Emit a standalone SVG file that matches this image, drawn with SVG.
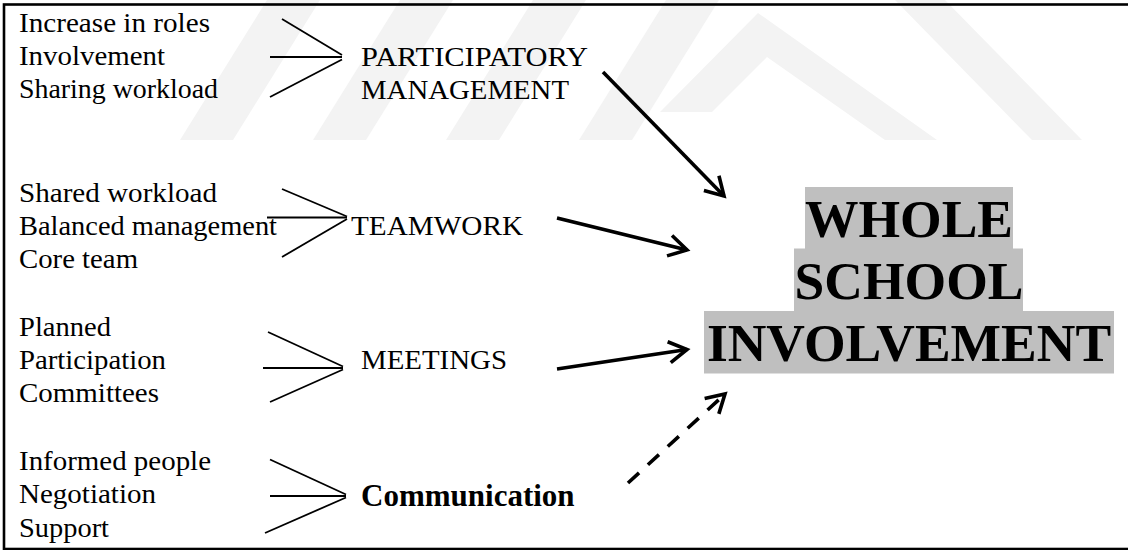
<svg xmlns="http://www.w3.org/2000/svg" width="1128" height="550" viewBox="0 0 1128 550">
<style>
.t{font-family:"Liberation Serif","Times New Roman",serif;font-size:28px;fill:#000}
.lb{font-family:"Liberation Serif","Times New Roman",serif;font-size:28px;fill:#000}
.bd{font-family:"Liberation Serif","Times New Roman",serif;font-size:31px;font-weight:bold;fill:#000}
.big{font-family:"Liberation Serif","Times New Roman",serif;font-size:53.5px;font-weight:bold;fill:#000;text-anchor:middle}
.ch{stroke:#000;stroke-width:1.8;fill:none}
.ar{stroke:#000;stroke-width:3.6;fill:none;marker-end:url(#head)}
.wm{fill:#f3f3f3}
</style>
<defs>
<marker id="head" markerUnits="userSpaceOnUse" orient="auto" refX="0" refY="0" markerWidth="40" markerHeight="40" overflow="visible">
<path d="M-18,-10.5 L0,0 L-18,10.5" fill="none" stroke="#000" stroke-width="3.6" stroke-dasharray="none"/>
</marker>
</defs>
<rect x="0" y="0" width="1128" height="550" fill="#fff"/>
<g id="watermark">
<polygon class="wm" points="180,140 233,140 320,0 267,0"/>
<polygon class="wm" points="313,140 366,140 453,0 400,0"/>
<polygon class="wm" points="446,140 499,140 586,0 533,0"/>
<polygon class="wm" points="579,140 632,140 719,0 666,0"/>
<polygon class="wm" points="660,112 758,13 937,140 885,140 767,57 712,112"/>
<polygon class="wm" points="895,0 945,0 1082,140 1032,140"/>
</g>
<rect id="frame" x="4" y="4.5" width="1135" height="544.5" fill="none" stroke="#000" stroke-width="2.6"/>
<g id="connectors">
<line class="ch" x1="282" y1="19" x2="342" y2="55"/>
<line class="ch" x1="270" y1="57" x2="342" y2="57"/>
<line class="ch" x1="270" y1="97" x2="342" y2="59.5"/>
<line class="ch" x1="282" y1="189" x2="347" y2="216.5"/>
<line class="ch" x1="267" y1="217.5" x2="347" y2="217.5"/>
<line class="ch" x1="282" y1="257" x2="347" y2="219"/>
<line class="ch" x1="268" y1="332" x2="343" y2="366.5"/>
<line class="ch" x1="263" y1="368" x2="343" y2="368"/>
<line class="ch" x1="270" y1="402" x2="343" y2="369.5"/>
<line class="ch" x1="270" y1="459.5" x2="346" y2="494.5"/>
<line class="ch" x1="270" y1="496" x2="346" y2="496"/>
<line class="ch" x1="265" y1="533" x2="346" y2="497.5"/>
<line class="ar" x1="603" y1="72" x2="724" y2="196"/>
<line class="ar" x1="557" y1="218" x2="687" y2="250"/>
<line class="ar" x1="557" y1="369" x2="687" y2="349.5"/>
<line class="ar" x1="628" y1="483" x2="725" y2="394" stroke-dasharray="15 12"/>
</g>
<g id="participatory-inputs">
<text class="t" x="19" y="32" textLength="191" lengthAdjust="spacingAndGlyphs">Increase in roles</text>
<text class="t" x="19" y="65" textLength="146" lengthAdjust="spacingAndGlyphs">Involvement</text>
<text class="t" x="19" y="98" textLength="199" lengthAdjust="spacingAndGlyphs">Sharing workload</text>
</g>
<g id="participatory">
<text class="lb" x="361" y="65.5" textLength="227" lengthAdjust="spacingAndGlyphs">PARTICIPATORY</text>
<text class="lb" x="361" y="99" textLength="208" lengthAdjust="spacingAndGlyphs">MANAGEMENT</text>
</g>
<g id="teamwork-inputs">
<text class="t" x="19" y="201.5" textLength="198" lengthAdjust="spacingAndGlyphs">Shared workload</text>
<text class="t" x="19" y="234.5" textLength="258" lengthAdjust="spacingAndGlyphs">Balanced management</text>
<text class="t" x="19" y="267.5" textLength="119" lengthAdjust="spacingAndGlyphs">Core team</text>
</g>
<g id="teamwork">
<text class="lb" x="351" y="235" textLength="172" lengthAdjust="spacingAndGlyphs">TEAMWORK</text>
</g>
<g id="meetings-inputs">
<text class="t" x="19" y="336" textLength="92" lengthAdjust="spacingAndGlyphs">Planned</text>
<text class="t" x="19" y="369" textLength="147" lengthAdjust="spacingAndGlyphs">Participation</text>
<text class="t" x="19" y="402" textLength="140" lengthAdjust="spacingAndGlyphs">Committees</text>
</g>
<g id="meetings">
<text class="lb" x="361" y="369" textLength="146" lengthAdjust="spacingAndGlyphs">MEETINGS</text>
</g>
<g id="communication-inputs">
<text class="t" x="19" y="470" textLength="192" lengthAdjust="spacingAndGlyphs">Informed people</text>
<text class="t" x="19" y="503" textLength="137" lengthAdjust="spacingAndGlyphs">Negotiation</text>
<text class="t" x="19" y="536.5" textLength="90" lengthAdjust="spacingAndGlyphs">Support</text>
</g>
<g id="communication">
<text class="bd" x="361" y="506">Communication</text>
</g>
<g id="whole-school-involvement">
<rect x="805" y="187" width="208" height="62" fill="#bfbfbf"/>
<rect x="794" y="248.5" width="229" height="62.5" fill="#bfbfbf"/>
<rect x="704" y="311" width="410" height="62.5" fill="#bfbfbf"/>
<text class="big" x="909" y="236.5">WHOLE</text>
<text class="big" x="909" y="298.5">SCHOOL</text>
<text class="big" x="909" y="361">INVOLVEMENT</text>
</g>
</svg>
